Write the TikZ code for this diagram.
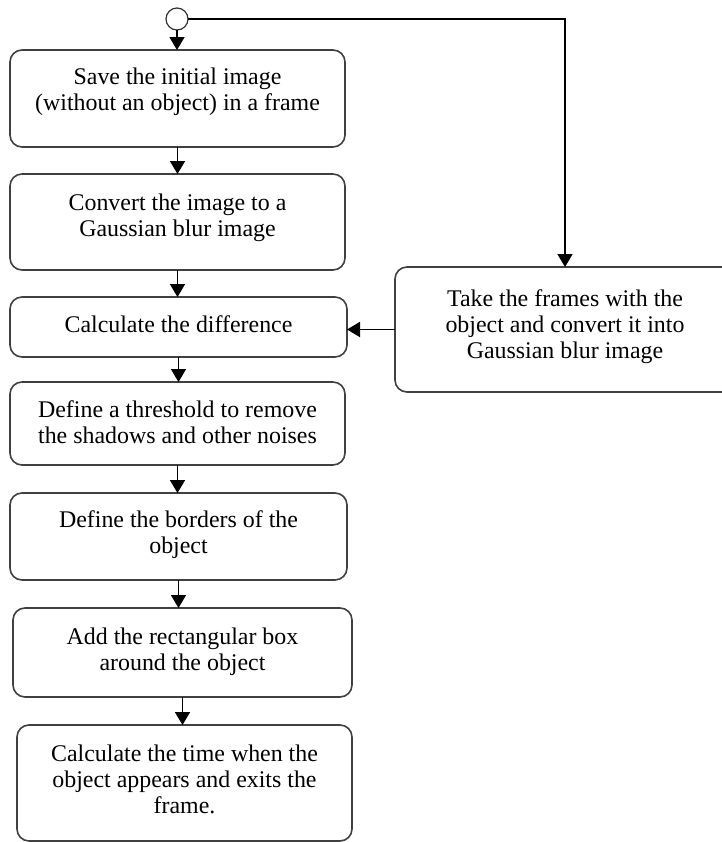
\documentclass[tikz,border=0pt]{standalone}
\usepackage{fontspec}
\setmainfont{Liberation Serif}
\usetikzlibrary{arrows.meta}
\tikzset{
  box/.style={draw=black!75, line width=0.8pt, rounded corners=6pt, rectangle, inner sep=0pt, outer sep=0pt},
  txt/.style={align=center, anchor=base, inner sep=0pt, font=\fontsize{11.95pt}{12.9pt}\selectfont},
  arr/.style={draw=black, line width=0.85pt, -{Triangle[length=6.5pt,width=7.5pt]}},
  startc/.style={draw=black!80, circle, line width=0.6pt, minimum size=11pt, inner sep=0pt, outer sep=0pt, fill=white}
}
\begin{document}
\begin{tikzpicture}[x=0.5pt,y=-0.5pt]
\useasboundingbox (0,0) rectangle (722,842);
\node[box, minimum width=167.5pt, minimum height=48.5pt] (b1) at (177.5,98.5) {};
\node[box, minimum width=167.5pt, minimum height=48pt] (b2) at (177.5,222) {};
\node[box, minimum width=168.5pt, minimum height=30pt] (b3) at (178.5,327) {};
\node[box, minimum width=167.5pt, minimum height=41.5pt] (b4) at (177.5,423.5) {};
\node[box, minimum width=168.5pt, minimum height=43.5pt] (b5) at (178.5,536.5) {};
\node[box, minimum width=169.5pt, minimum height=44.5pt] (b6) at (182.5,652.5) {};
\node[box, minimum width=167.5pt, minimum height=58pt] (b7) at (184.5,783) {};
\node[box, minimum width=170pt, minimum height=62.5pt] (r) at (565,329.5) {};
\node[startc] (c) at (177,19) {};

\node[txt] (t1) at (177.5,110) {Save the initial image\\(without an object) in a frame};
\node[txt] (t2) at (177.5,236) {Convert the image to a\\Gaussian blur image};
\node[txt] (t3) at (178.5,332) {Calculate the difference};
\node[txt] (t4) at (177.5,443) {Define a threshold to remove\\the shadows and other noises};
\node[txt] (t5) at (178.5,553) {Define the borders of the\\object};
\node[txt] (t6) at (182.5,670) {Add the rectangular box\\around the object};
\node[txt] (t7) at (184.5,813) {Calculate the time when the\\object appears and exits the\\frame.};
\node[txt] (tr) at (565,358) {Take the frames with the\\object and convert it into\\Gaussian blur image};

\draw[arr] (c.south) -- (c.south |- b1.north);
\draw[arr] (b1.south) -- (b1.south |- b2.north);
\draw[arr] (b2.south) -- (b2.south |- b3.north);
\draw[arr] (b3.south) -- (b3.south |- b4.north);
\draw[arr] (b4.south) -- (b4.south |- b5.north);
\draw[arr] (b5.south) -- (b5.south |- b6.north);
\draw[arr] (b6.south) -- (b6.south |- b7.north);
\draw[arr] (c.east) -| (r.north);
\draw[arr] (r.west) -- (r.west -| b3.east);
\end{tikzpicture}
\end{document}
